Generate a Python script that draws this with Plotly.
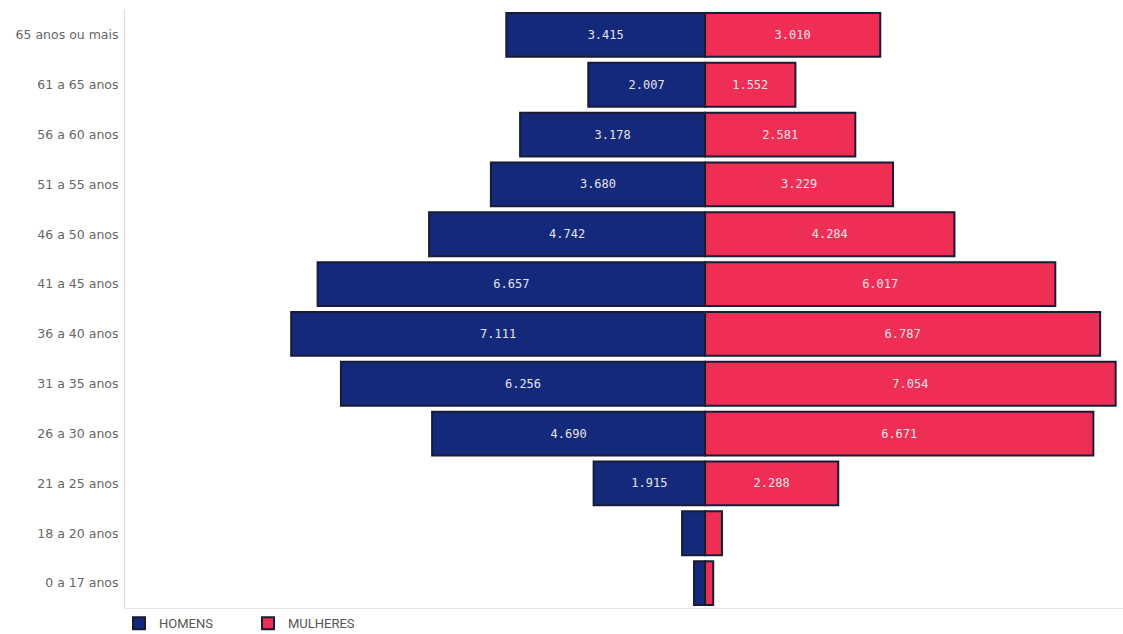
import plotly.graph_objects as go

categories = ["0 a 17 anos", "18 a 20 anos", "21 a 25 anos", "26 a 30 anos", "31 a 35 anos",
              "36 a 40 anos", "41 a 45 anos", "46 a 50 anos", "51 a 55 anos", "56 a 60 anos",
              "61 a 65 anos", "65 anos ou mais"]
homens = [190, 395, 1915, 4690, 6256, 7111, 6657, 4742, 3680, 3178, 2007, 3415]
mulheres = [140, 290, 2288, 6671, 7054, 6787, 6017, 4284, 3229, 2581, 1552, 3010]


def fmt(v):
    return f"{v:,}".replace(",", ".")


MEN_COLOR = "#14297a"
WOMEN_COLOR = "#ee2e55"
OUTLINE = "#1b1b35"

fig = go.Figure()
fig.add_trace(go.Bar(
    y=categories, x=[-v for v in homens], orientation="h", name="HOMENS",
    marker=dict(color=MEN_COLOR, line=dict(color=OUTLINE, width=2)),
    text=[fmt(v) for v in homens], textposition="inside", insidetextanchor="middle",
    textangle=0,
    textfont=dict(color="#e3e3ec", family="DejaVu Sans Mono", size=12),
))
fig.add_trace(go.Bar(
    y=categories, x=mulheres, orientation="h", name="MULHERES",
    marker=dict(color=WOMEN_COLOR, line=dict(color=OUTLINE, width=2)),
    text=[fmt(v) for v in mulheres], textposition="inside", insidetextanchor="middle",
    textangle=0,
    textfont=dict(color="#f6e4e9", family="DejaVu Sans Mono", size=12),
))

fig.update_layout(
    width=1123, height=634,
    margin=dict(l=125, r=0, t=10, b=26, autoexpand=False),
    barmode="relative", bargap=0.12,
    plot_bgcolor="white", paper_bgcolor="white",
    uniformtext=dict(minsize=11, mode="hide"),
    showlegend=True,
    legend=dict(orientation="h", x=-0.006, xanchor="left", yref="container", y=0.017, yanchor="middle",
                bgcolor="rgba(0,0,0,0)",
                font=dict(family="Roboto", size=13, color="#555555"),
                entrywidth=84, entrywidthmode="pixels", traceorder="normal",
                itemclick=False),
    xaxis=dict(range=[-9966, 7180], showticklabels=False, showgrid=False, zeroline=False,
               showline=True, linecolor="#e3e3e3", linewidth=1, fixedrange=True),
    yaxis=dict(showgrid=False, zeroline=False, showline=True, linecolor="#dcdcdc", linewidth=1,
               tickfont=dict(family="DejaVu Sans", size=12.5, color="#666666"),
               ticklabelstandoff=3,
               ticks="", fixedrange=True, categoryorder="array", categoryarray=categories),
)

fig.write_html("out.html")
